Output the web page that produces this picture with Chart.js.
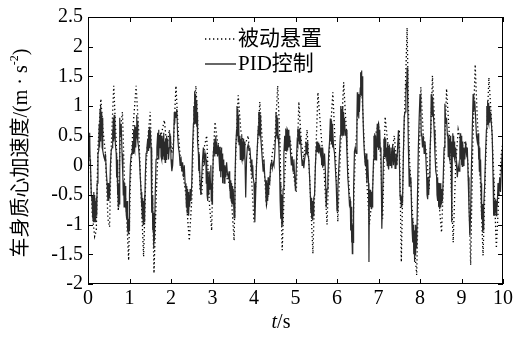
<!DOCTYPE html>
<html><head><meta charset="utf-8">
<script src="https://cdn.jsdelivr.net/npm/chart.js@4.4.1/dist/chart.umd.min.js"></script>
<style>html,body{margin:0;padding:0;background:#fff}#c{display:block}</style>
</head><body>
<canvas id="c" width="516" height="338"></canvas>
<script>
// [t (s), acceleration (m/s^2)]
const pidSeries = [
[0.00,0.45],[0.01,0.1],[0.02,0.5],[0.03,0.15],[0.04,0.55],[0.05,0.1],[0.06,0.0],[0.08,-0.5],[0.10,-0.6],[0.11,-0.9],[0.12,-0.5],[0.13,-0.95],[0.14,-0.45],[0.15,-0.9],[0.16,-0.5],[0.17,-0.95],[0.18,-0.6],[0.19,-0.9],[0.20,-0.55],[0.21,-0.85],[0.22,-0.3],[0.24,0.2],[0.26,0.25],[0.27,0.7],[0.28,0.3],[0.29,0.95],[0.30,0.4],[0.31,1.0],[0.32,0.5],[0.33,0.9],[0.34,0.3],[0.35,0.8],[0.36,0.25],
[0.38,0.15],[0.40,0.1],[0.42,0.2],[0.44,-0.1],[0.46,-0.3],[0.48,-0.6],[0.49,-0.3],[0.50,-0.6],[0.51,-0.35],[0.52,-0.55],[0.54,0.0],[0.56,0.25],[0.58,0.3],[0.59,0.6],[0.60,0.35],[0.61,0.8],[0.62,0.4],[0.63,0.85],[0.64,0.45],[0.65,0.75],[0.66,0.35],[0.68,0.2],[0.69,-0.2],[0.70,0.1],[0.71,-0.5],[0.72,-0.2],[0.73,-0.7],[0.74,-0.3],[0.75,-0.65],[0.76,0.1],[0.77,0.8],[0.78,0.5],[0.80,0.7],[0.82,0.2],[0.84,-0.2],[0.85,-0.5],[0.86,-0.25],[0.87,-0.7],[0.88,-0.3],[0.89,-0.65],[0.90,-0.35],[0.91,-0.7],[0.93,-0.9],[0.94,-0.6],[0.95,-1.1],[0.96,-0.8],[0.97,-1.15],[0.98,-0.9],[0.99,-1.1],
[1.00,-0.5],[1.02,0.0],[1.04,0.18],[1.06,0.2],[1.08,0.4],[1.09,0.2],[1.10,0.6],[1.11,0.3],[1.12,0.68],[1.13,0.25],[1.14,0.65],[1.15,0.3],[1.16,0.55],[1.17,0.85],[1.18,0.5],[1.19,0.75],[1.20,0.4],[1.22,0.3],[1.24,0.1],[1.26,-0.2],[1.28,-0.45],[1.29,-0.7],[1.30,-0.45],[1.31,-0.9],[1.32,-0.55],[1.33,-1.0],[1.34,-0.6],[1.35,-0.95],[1.36,-0.5],[1.37,-0.8],[1.38,-0.2],[1.40,0.2],[1.42,0.3],[1.44,0.45],[1.45,0.25],[1.46,0.6],[1.47,0.3],[1.48,0.65],[1.49,0.35],[1.50,0.6],[1.52,0.3],[1.53,-0.2],[1.54,-0.8],[1.55,-0.5],[1.56,-1.1],[1.57,-0.8],[1.58,-1.4],[1.59,-1.0],[1.60,-1.28],[1.62,-0.5],[1.64,0.1],[1.66,0.3],[1.68,0.55],[1.69,0.2],[1.70,0.6],[1.71,0.1],[1.72,0.5],[1.74,0.3],[1.75,0.55],[1.76,0.15],[1.77,0.5],[1.78,0.1],[1.79,0.45],[1.80,0.1],[1.81,0.5],[1.82,0.15],[1.83,0.55],[1.84,0.1],[1.85,0.4],[1.86,0.05],[1.87,0.45],[1.88,0.1],[1.89,0.3],[1.90,0.5],[1.91,0.2],[1.92,0.45],[1.94,0.1],[1.96,0.3],[1.97,0.55],[1.98,0.3],[1.99,0.5],
[2.00,0.1],[2.02,-0.1],[2.04,0.0],[2.06,0.3],[2.08,0.9],[2.09,0.7],[2.10,0.9],[2.12,0.8],[2.14,0.95],[2.16,0.5],[2.18,0.3],[2.20,0.2],[2.22,0.0],[2.24,0.15],[2.26,-0.1],[2.28,0.05],[2.30,-0.2],[2.32,0.0],[2.34,-0.3],[2.36,-0.4],[2.37,-0.7],[2.38,-0.35],[2.39,-0.8],[2.40,-0.4],[2.41,-0.75],[2.42,-0.45],[2.43,-0.85],[2.44,-0.5],[2.45,-0.7],[2.46,-0.4],[2.48,-0.6],[2.50,-0.3],[2.52,0.3],[2.54,0.7],[2.55,1.0],[2.56,0.7],[2.57,1.25],[2.58,0.8],[2.59,1.2],[2.60,0.7],[2.61,1.1],[2.62,0.65],[2.63,0.9],[2.64,0.4],[2.66,0.2],[2.67,-0.1],[2.68,0.2],[2.70,-0.3],[2.72,-0.5],[2.74,-0.2],[2.76,0.1],[2.78,0.3],[2.80,0.0],[2.82,0.2],[2.84,0.1],[2.85,-0.3],[2.86,0.1],[2.87,-0.5],[2.88,-0.1],[2.89,-0.6],[2.90,-0.2],[2.91,-0.5],[2.92,-0.1],[2.94,-0.4],[2.96,0.0],[2.97,-0.6],[2.98,-0.3],[2.99,-0.65],
[3.00,-0.3],[3.02,0.2],[3.04,0.4],[3.05,0.15],[3.06,0.45],[3.07,0.2],[3.08,0.5],[3.09,0.2],[3.10,0.4],[3.12,0.15],[3.14,0.35],[3.16,0.1],[3.17,0.3],[3.18,-0.1],[3.19,0.25],[3.20,-0.2],[3.21,0.3],[3.22,-0.1],[3.23,0.2],[3.24,-0.3],[3.25,0.15],[3.26,-0.2],[3.27,0.1],[3.28,-0.3],[3.30,0.0],[3.32,-0.2],[3.34,0.05],[3.36,-0.15],[3.38,-0.2],[3.40,-0.1],[3.41,-0.4],[3.42,-0.2],[3.43,-0.55],[3.44,-0.25],[3.45,-0.6],[3.46,-0.3],[3.47,-0.65],[3.48,-0.35],[3.49,-0.6],[3.50,-0.4],[3.52,-0.88],[3.54,-0.3],[3.56,0.3],[3.58,0.6],[3.59,1.0],[3.60,0.5],[3.61,0.95],[3.62,0.4],[3.63,0.85],[3.64,0.35],[3.66,0.5],[3.67,0.1],[3.68,0.45],[3.69,0.15],[3.70,0.5],[3.71,0.1],[3.72,0.4],[3.73,0.07],[3.74,0.45],[3.75,0.1],[3.76,0.4],[3.78,0.2],[3.80,-0.54],[3.82,0.1],[3.84,0.3],[3.86,0.35],[3.88,0.25],[3.90,0.3],[3.92,0.1],[3.94,-0.1],[3.95,0.1],[3.96,-0.2],[3.97,0.0],[3.98,-0.21],
[4.00,-0.3],[4.02,-0.96],[4.04,-0.5],[4.06,0.0],[4.08,0.3],[4.10,0.6],[4.11,0.9],[4.12,0.55],[4.13,0.9],[4.14,0.5],[4.15,0.85],[4.16,0.5],[4.18,0.3],[4.20,0.1],[4.22,-0.1],[4.24,0.1],[4.26,-0.2],[4.28,-0.3],[4.29,-0.6],[4.30,-0.25],[4.31,-0.66],[4.32,-0.3],[4.33,-0.6],[4.34,-0.2],[4.35,-0.5],[4.36,-0.25],[4.38,-0.3],[4.40,0.0],[4.42,0.05],[4.44,-0.05],[4.46,0.05],[4.48,0.0],[4.50,0.2],[4.52,0.5],[4.53,0.9],[4.54,0.5],[4.55,0.85],[4.56,0.46],[4.57,0.8],[4.58,0.5],[4.60,0.3],[4.62,-0.2],[4.63,-0.6],[4.64,-0.3],[4.65,-0.9],[4.66,-0.5],[4.67,-1.04],[4.68,-0.7],[4.69,-1.0],[4.70,-0.4],[4.72,0.2],[4.74,0.5],[4.75,0.25],[4.76,0.62],[4.77,0.3],[4.78,0.6],[4.79,0.23],[4.80,0.55],[4.81,0.25],[4.82,0.6],[4.84,0.3],[4.86,0.5],[4.88,0.2],[4.90,0.0],[4.92,0.15],[4.94,-0.1],[4.96,0.1],[4.98,-0.2],
[5.00,-0.43],[5.02,0.0],[5.04,0.4],[5.05,0.62],[5.06,0.35],[5.07,0.6],[5.08,0.4],[5.09,0.62],[5.10,0.35],[5.12,0.5],[5.14,0.2],[5.16,0.0],[5.18,0.1],[5.20,-0.05],[5.22,0.1],[5.24,0.2],[5.25,0.4],[5.26,0.2],[5.27,0.38],[5.28,0.18],[5.29,0.4],[5.30,0.2],[5.32,0.1],[5.34,-0.2],[5.36,-0.54],[5.37,-0.8],[5.38,-0.55],[5.39,-0.9],[5.40,-0.6],[5.41,-0.93],[5.42,-0.6],[5.43,-0.85],[5.44,-0.55],[5.46,-0.5],[5.48,0.0],[5.50,0.3],[5.51,0.4],[5.52,0.23],[5.53,0.4],[5.54,0.25],[5.55,0.38],[5.56,0.2],[5.58,0.35],[5.60,0.2],[5.62,0.3],[5.63,0.0],[5.64,0.3],[5.65,-0.04],[5.66,0.3],[5.68,0.0],[5.70,0.2],[5.72,-0.1],[5.74,-0.71],[5.76,-0.4],[5.78,-0.2],[5.80,0.2],[5.82,0.4],[5.84,0.79],[5.85,0.4],[5.86,0.75],[5.87,0.35],[5.88,0.7],[5.89,0.3],[5.90,0.6],[5.92,0.3],[5.94,0.2],[5.96,-0.04],[5.98,-0.3],
[6.00,-0.77],[6.02,-0.4],[6.04,-0.1],[6.06,0.2],[6.08,0.5],[6.09,1.0],[6.10,0.6],[6.11,0.95],[6.12,0.55],[6.13,1.0],[6.14,0.5],[6.15,0.9],[6.16,0.5],[6.18,0.8],[6.20,0.5],[6.22,0.6],[6.24,0.2],[6.26,-0.2],[6.28,-0.4],[6.30,-0.66],[6.32,-0.6],[6.33,-1.1],[6.34,-0.7],[6.35,-1.3],[6.36,-0.9],[6.37,-1.49],[6.38,-1.0],[6.39,-1.3],[6.40,-0.4],[6.42,0.23],[6.44,0.3],[6.46,0.2],[6.48,0.8],[6.49,1.23],[6.50,0.85],[6.51,1.2],[6.52,0.79],[6.53,1.1],[6.54,0.9],[6.56,1.3],[6.57,1.57],[6.58,1.2],[6.59,1.6],[6.60,1.18],[6.61,1.5],[6.62,1.0],[6.64,0.5],[6.66,0.2],[6.68,0.0],[6.70,0.2],[6.72,-0.3],[6.74,0.1],[6.76,-0.3],[6.77,-1.63],[6.78,-0.5],[6.80,-0.41],[6.81,-0.7],[6.82,-0.45],[6.83,-0.74],[6.84,-0.5],[6.85,-0.7],[6.86,-0.4],[6.88,0.1],[6.89,0.5],[6.90,0.15],[6.91,0.54],[6.92,0.1],[6.93,0.5],[6.94,0.09],[6.95,0.4],[6.96,0.3],[6.97,0.7],[6.98,0.3],[6.99,0.65],
[7.00,0.26],[7.01,0.7],[7.02,0.3],[7.03,0.6],[7.04,0.3],[7.06,0.2],[7.08,-1.07],[7.10,-0.5],[7.12,0.15],[7.13,0.45],[7.14,0.15],[7.15,0.48],[7.16,0.2],[7.17,0.45],[7.18,0.15],[7.20,0.3],[7.21,0.0],[7.22,0.37],[7.23,0.0],[7.24,0.3],[7.25,-0.07],[7.26,0.35],[7.28,0.0],[7.30,0.3],[7.32,-0.05],[7.34,0.35],[7.36,0.0],[7.38,0.3],[7.40,-0.05],[7.42,0.2],[7.44,0.0],[7.46,0.3],[7.48,0.59],[7.50,0.2],[7.52,-0.52],[7.53,-0.6],[7.54,-0.52],[7.55,-0.7],[7.56,-0.55],[7.58,-0.6],[7.60,0.2],[7.62,0.82],[7.64,0.9],[7.66,1.2],[7.67,1.4],[7.68,1.3],[7.69,1.65],[7.70,1.3],[7.71,1.0],[7.72,0.3],[7.73,-0.02],[7.74,-0.35],[7.75,-0.05],[7.76,-0.3],[7.78,-0.2],[7.80,-0.85],[7.81,-1.1],[7.82,-0.9],[7.83,-1.3],[7.84,-1.0],[7.85,-1.5],[7.86,-1.1],[7.87,-1.63],[7.88,-1.2],[7.89,-1.52],[7.90,-1.0],[7.92,-1.4],[7.94,-0.5],[7.96,0.3],[7.98,0.8],
[8.00,1.2],[8.01,0.9],[8.02,1.15],[8.03,0.5],[8.04,0.54],[8.06,0.3],[8.08,0.5],[8.10,0.2],[8.12,0.4],[8.14,0.15],[8.16,-0.18],[8.17,-0.5],[8.18,-0.2],[8.19,-0.57],[8.20,-0.25],[8.21,-0.5],[8.22,-0.2],[8.24,0.2],[8.26,0.6],[8.27,1.2],[8.28,0.85],[8.29,1.15],[8.30,0.82],[8.31,1.1],[8.32,0.9],[8.34,0.6],[8.36,0.2],[8.38,-0.1],[8.40,-0.18],[8.41,-0.5],[8.42,-0.2],[8.43,-0.6],[8.44,-0.3],[8.45,-0.7],[8.46,-0.3],[8.47,-0.74],[8.48,-0.35],[8.49,-0.7],[8.50,-0.3],[8.51,-0.65],[8.52,-0.4],[8.54,-0.6],[8.56,-0.2],[8.58,0.3],[8.60,1.04],[8.62,0.7],[8.64,0.8],[8.66,0.5],[8.67,0.54],[8.68,0.15],[8.69,0.5],[8.70,0.15],[8.71,0.45],[8.72,0.1],[8.73,0.5],[8.74,0.2],[8.75,0.4],[8.76,0.1],[8.77,-0.96],[8.78,0.3],[8.79,0.54],[8.80,0.15],[8.81,0.5],[8.82,0.15],[8.83,0.4],[8.84,0.1],[8.86,0.3],[8.88,0.0],[8.90,-0.2],[8.92,0.0],[8.94,-0.1],[8.96,0.3],[8.97,0.54],[8.98,0.1],[8.99,0.5],
[9.00,0.0],[9.01,0.45],[9.02,-0.02],[9.03,0.4],[9.04,0.0],[9.06,0.3],[9.08,0.1],[9.10,0.4],[9.12,0.2],[9.14,0.3],[9.16,-0.2],[9.18,-0.7],[9.20,-1.18],[9.22,-0.8],[9.24,0.0],[9.26,0.6],[9.28,1.2],[9.29,0.9],[9.30,1.15],[9.31,0.95],[9.32,1.09],[9.34,0.8],[9.36,0.5],[9.38,0.4],[9.40,0.54],[9.41,0.1],[9.42,0.4],[9.43,-0.1],[9.44,0.3],[9.45,-0.18],[9.46,0.1],[9.47,-0.3],[9.48,-0.63],[9.49,-0.9],[9.50,-0.65],[9.51,-1.13],[9.52,-0.8],[9.53,-1.1],[9.54,-0.7],[9.56,-0.3],[9.58,0.2],[9.60,0.6],[9.61,1.0],[9.62,0.7],[9.63,1.09],[9.64,0.75],[9.65,1.05],[9.66,0.7],[9.67,1.0],[9.68,0.72],[9.70,0.9],[9.72,0.7],[9.74,0.5],[9.76,-0.2],[9.77,-0.57],[9.78,-0.85],[9.79,-0.6],[9.80,-0.85],[9.81,-0.57],[9.82,-0.8],[9.83,-0.6],[9.84,-0.85],[9.85,-0.6],[9.86,-0.7],[9.88,-0.3],[9.90,-0.5],[9.92,-0.2],[9.94,-0.45],[9.96,-0.1],[9.98,0.2],[10.0,0.37]
];
const passiveSeries = [
[0.00,0.5],[0.05,0.1],[0.10,-0.8],[0.16,-1.2],[0.20,-1.1],[0.24,0.3],[0.31,1.12],[0.36,0.6],[0.42,0.2],[0.48,-0.9],[0.52,-1.04],[0.56,0.3],[0.62,1.34],[0.68,0.4],[0.73,-0.77],[0.78,0.6],[0.83,0.9],[0.88,-0.3],[0.92,-0.7],[0.98,-1.6],
[1.02,-0.3],[1.08,0.6],[1.16,1.34],[1.22,0.6],[1.28,-0.5],[1.34,-1.54],[1.40,0.0],[1.46,0.6],[1.50,0.9],[1.54,0.0],[1.59,-1.82],[1.64,-0.6],[1.70,0.5],[1.76,0.5],[1.84,0.76],[1.90,0.3],[1.96,0.6],
[2.02,0.2],[2.06,0.4],[2.12,1.34],[2.18,0.5],[2.24,0.0],[2.30,-0.2],[2.36,-0.5],[2.44,-1.27],[2.50,-0.6],[2.56,1.0],[2.60,1.34],[2.64,0.8],[2.70,-0.4],[2.74,-0.5],[2.80,0.3],[2.86,0.5],[2.92,-0.6],[2.98,-1.1],
[3.02,0.2],[3.06,0.73],[3.12,0.4],[3.18,0.3],[3.26,0.0],[3.34,-0.2],[3.40,-0.3],[3.46,-0.6],[3.52,-1.27],[3.56,0.2],[3.62,1.18],[3.68,0.6],[3.76,0.3],[3.86,0.5],[3.94,-0.2],
[4.00,-0.96],[4.06,0.0],[4.14,1.07],[4.20,0.4],[4.30,-0.66],[4.36,-0.4],[4.44,0.2],[4.50,0.4],[4.57,1.34],[4.62,0.5],[4.68,-1.43],[4.74,-0.2],[4.80,0.6],[4.88,0.4],[4.96,-0.2],
[5.02,-0.45],[5.08,1.07],[5.14,0.4],[5.20,0.1],[5.28,0.6],[5.34,-0.2],[5.42,-1.49],[5.48,0.0],[5.54,1.23],[5.62,0.5],[5.68,0.0],[5.76,-1.0],[5.82,0.3],[5.90,1.23],[5.96,0.3],
[6.02,-0.95],[6.08,0.2],[6.16,1.4],[6.24,0.4],[6.30,-0.5],[6.38,-1.2],[6.44,0.2],[6.52,1.1],[6.60,1.25],[6.66,0.3],[6.72,-0.3],[6.78,-1.0],[6.84,-0.6],[6.92,0.5],
[7.00,0.7],[7.06,0.0],[7.10,-0.9],[7.16,0.82],[7.22,0.4],[7.30,0.1],[7.38,0.5],[7.44,0.0],[7.50,0.6],[7.55,-1.63],[7.60,0.2],[7.66,1.6],[7.69,2.32],[7.74,0.2],[7.80,-0.6],[7.88,-1.5],[7.92,-1.85],[7.96,-0.5],
[8.02,1.32],[8.08,0.5],[8.16,0.2],[8.22,-0.4],[8.30,1.51],[8.36,0.6],[8.44,-0.5],[8.52,-1.13],[8.58,0.0],[8.64,1.29],[8.70,0.6],[8.76,-0.5],[8.80,-1.3],[8.86,0.0],[8.92,0.6],
[9.00,0.3],[9.10,0.4],[9.16,0.0],[9.22,-1.68],[9.27,0.3],[9.33,1.7],[9.38,0.8],[9.44,0.0],[9.52,-1.52],[9.58,0.0],[9.66,1.48],[9.72,0.8],[9.78,-0.2],[9.84,-1.4],[9.90,-0.5],[9.96,0.2],[10.0,0.4]
];
const xTicks = [0,1,2,3,4,5,6,7,8,9,10];
const yTicks = [-2,-1.5,-1,-0.5,0,0.5,1,1.5,2,2.5];
const yTickLabels = ['-2','-1.5','-1','-0.5','0','0.5','1','1.5','2','2.5'];
const seriesNames = ['被动悬置','PID控制'];
const xTitleItalic = 't';
const xTitleRest = '/s';
const yTitleMain = '车身质心加速度/(m · s';
const yTitleSup = '-2';
const yTitleEnd = ')';

const SERIF = '"Liberation Serif","Times New Roman",serif';
const MIXED = '"Liberation Serif","Noto Sans CJK SC",serif';

const decor = {
  id: 'decor',
  afterDraw(chart) {
    const ctx = chart.ctx, a = chart.chartArea;
    const xs = chart.scales.x, ys = chart.scales.y;
    ctx.save();
    ctx.strokeStyle = '#000'; ctx.lineWidth = 1;
    ctx.strokeRect(a.left + 0.5, a.top + 0.5, a.right - a.left - 1, a.bottom - a.top - 1);
    ctx.beginPath();
    xTicks.forEach(v => {
      const x = Math.round(xs.getPixelForValue(v)) + 0.5;
      ctx.moveTo(x, a.bottom); ctx.lineTo(x, a.bottom - 5);
      ctx.moveTo(x, a.top); ctx.lineTo(x, a.top + 5);
    });
    yTicks.forEach(v => {
      const y = Math.round(ys.getPixelForValue(v)) + 0.5;
      ctx.moveTo(a.left, y); ctx.lineTo(a.left + 5, y);
      ctx.moveTo(a.right, y); ctx.lineTo(a.right - 5, y);
    });
    ctx.stroke();
    // legend
    const ds = chart.data.datasets;
    const lx0 = 205, lx1 = 236;
    const rows = [{y: 39, ds: ds[0]}, {y: 64, ds: ds[1]}];
    rows.forEach(r => {
      ctx.fillStyle = '#fff';
      ctx.fillRect(lx0 - 2, r.y - 11, 125, 22);
      ctx.beginPath();
      ctx.strokeStyle = '#000';
      ctx.lineWidth = r.ds.borderWidth;
      ctx.setLineDash(r.ds.borderDash || []);
      ctx.moveTo(lx0, r.y); ctx.lineTo(lx1, r.y);
      ctx.stroke();
      ctx.setLineDash([]);
      ctx.fillStyle = '#000';
      ctx.font = '21px ' + MIXED;
      ctx.textBaseline = 'middle'; ctx.textAlign = 'left';
      ctx.fillText(r.ds.label, lx1 + 2, r.y);
    });
    // x title
    ctx.fillStyle = '#000';
    ctx.textBaseline = 'middle';
    ctx.font = 'italic 20px ' + SERIF;
    const w1 = ctx.measureText(xTitleItalic).width;
    ctx.font = '20px ' + SERIF;
    const w2 = ctx.measureText(xTitleRest).width;
    const cx = 281, cy = 323;
    let sx = cx - (w1 + w2) / 2;
    ctx.font = 'italic 20px ' + SERIF;
    ctx.textAlign = 'left';
    ctx.fillText(xTitleItalic, sx, cy);
    ctx.font = '20px ' + SERIF;
    ctx.fillText(xTitleRest, sx + w1, cy);
    // y title rotated
    ctx.translate(22, 153);
    ctx.rotate(-Math.PI / 2);
    ctx.font = '20px ' + MIXED;
    const m1 = ctx.measureText(yTitleMain).width;
    ctx.font = '12px ' + SERIF;
    const m2 = ctx.measureText(yTitleSup).width;
    ctx.font = '20px ' + MIXED;
    const m3 = ctx.measureText(yTitleEnd).width;
    let tx = -(m1 + m2 + m3) / 2;
    ctx.textBaseline = 'middle';
    ctx.fillText(yTitleMain, tx, 0);
    ctx.font = '12px ' + SERIF;
    ctx.fillText(yTitleSup, tx + m1, -7);
    ctx.font = '20px ' + MIXED;
    ctx.fillText(yTitleEnd, tx + m1 + m2, 0);
    ctx.restore();
  }
};

const toPts = arr => arr.map(p => ({x: p[0], y: p[1]}));

new Chart(document.getElementById('c'), {
  type: 'line',
  data: {
    datasets: [
      {label: seriesNames[0], data: toPts(passiveSeries), order: 1, borderColor: '#000', borderWidth: 1.3, borderDash: [1.3, 2.7], pointRadius: 0, tension: 0, fill: false},
      {label: seriesNames[1], data: toPts(pidSeries), order: 0, borderColor: '#2a2a2a', borderWidth: 1.2, pointRadius: 0, tension: 0, fill: false}
    ]
  },
  options: {
    responsive: false, animation: false, devicePixelRatio: 1,
    layout: {padding: {left: 0, right: 11, top: 14, bottom: 0}},
    plugins: {legend: {display: false}, tooltip: {enabled: false}},
    scales: {
      x: {
        type: 'linear', min: 0, max: 10,
        grid: {display: false, drawTicks: false}, border: {display: false},
        afterBuildTicks: s => { s.ticks = xTicks.map(v => ({value: v})); },
        afterFit: s => { s.height = 54; },
        ticks: {color: '#000', font: {family: SERIF, size: 20}, padding: 3, maxRotation: 0, autoSkip: false,
          callback: v => String(v)}
      },
      y: {
        type: 'linear', min: -2, max: 2.5,
        grid: {display: false, drawTicks: false}, border: {display: false},
        afterBuildTicks: s => { s.ticks = yTicks.map(v => ({value: v})); },
        afterFit: s => { s.width = 88; },
        ticks: {color: '#000', font: {family: SERIF, size: 20}, padding: 5, autoSkip: false,
          callback: v => yTickLabels[yTicks.indexOf(v)]}
      }
    }
  },
  plugins: [decor]
});
</script>
</body></html>
